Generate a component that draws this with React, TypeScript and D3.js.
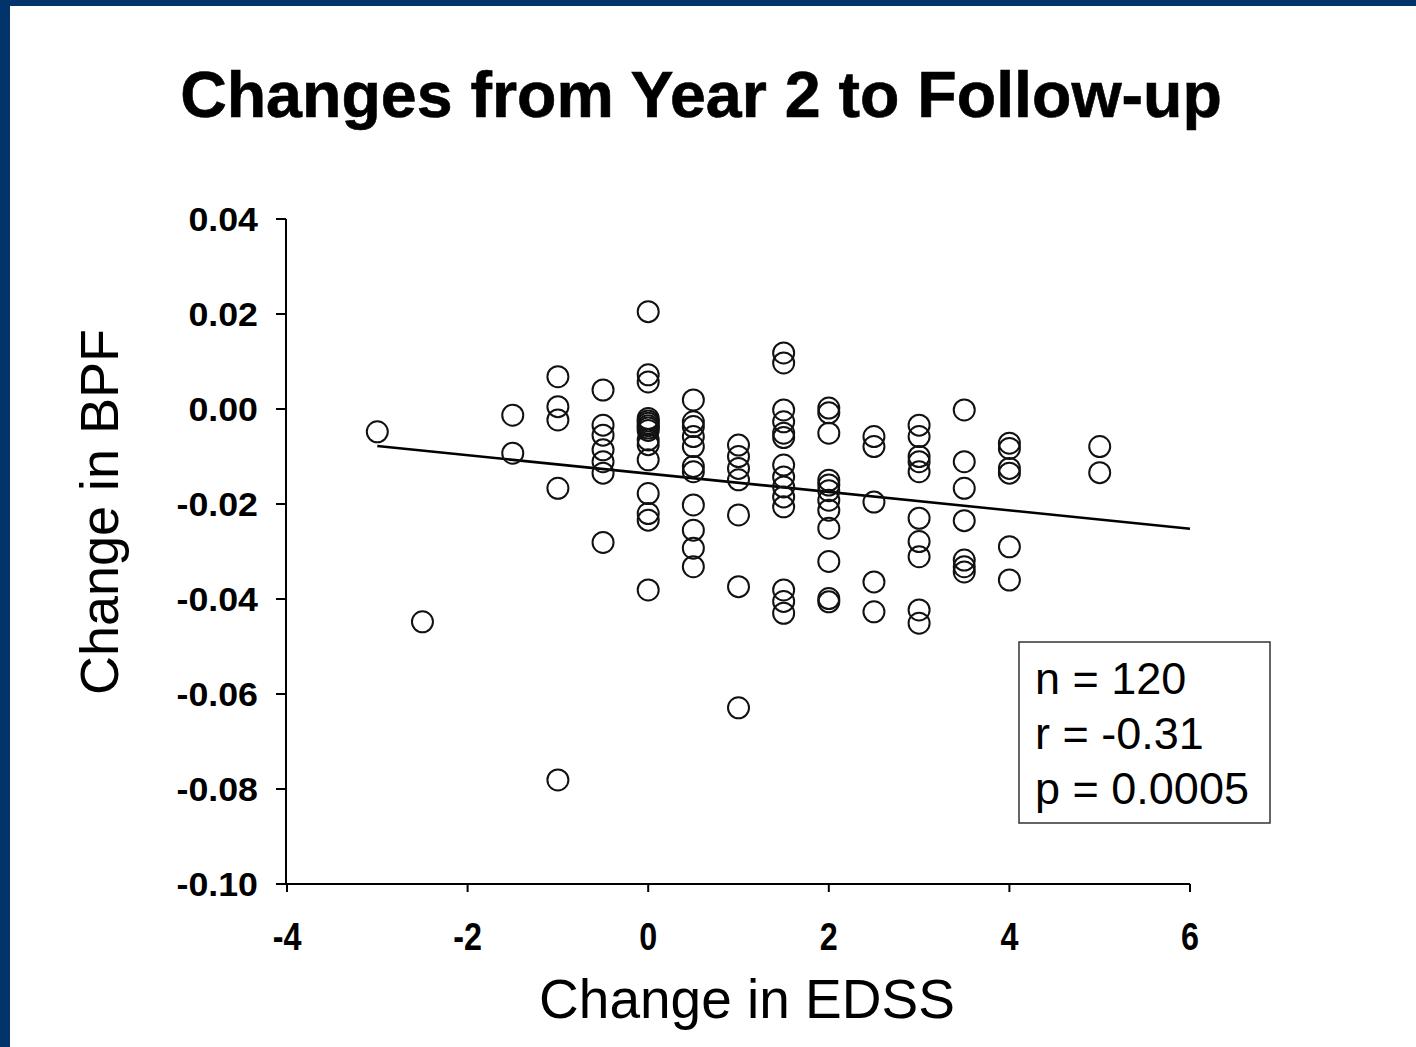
import React from "react";
import * as d3 from "d3";

const edssLevels = [-3, -2.5, -1.5, -1, -0.5, 0, 0.5, 1, 1.5, 2, 2.5, 3, 3.5, 4, 5];
const bpfAtM3 = [-0.0048];
const bpfAtM25 = [-0.0448];
const bpfAtM15 = [-0.0013, -0.0093];
const bpfAtM1 = [0.0068, 0.0005, -0.0023, -0.0167, -0.0781];
const bpfAtM05 = [0.004, -0.0034, -0.0055, -0.0086, -0.0111, -0.0135, -0.0281];
const bpfAt0 = [0.0205, 0.0072, 0.0057, -0.002, -0.0025, -0.003, -0.0035, -0.004, -0.0045, -0.0065, -0.0075, -0.0107, -0.0178, -0.022, -0.0234, -0.0381];
const bpfAt05 = [0.0019, -0.0027, -0.0037, -0.0058, -0.0079, -0.0121, -0.0132, -0.0202, -0.0255, -0.0293, -0.0332];
const bpfAt1 = [-0.0076, -0.01, -0.0125, -0.0149, -0.0223, -0.0374, -0.0629];
const bpfAt15 = [0.0118, 0.0097, -0.0002, -0.0027, -0.0051, -0.006, -0.0118, -0.0143, -0.0164, -0.0185, -0.0206, -0.0381, -0.0405, -0.043];
const bpfAt2 = [0.0002, -0.0008, -0.0051, -0.015, -0.016, -0.0172, -0.0192, -0.0213, -0.0251, -0.0321, -0.0399, -0.0406];
const bpfAt25 = [-0.0058, -0.0079, -0.0196, -0.0364, -0.0427];
const bpfAt3 = [-0.0034, -0.0058, -0.01, -0.0111, -0.0132, -0.023, -0.0279, -0.0311, -0.0423, -0.0451];
const bpfAt35 = [-0.0002, -0.0111, -0.0167, -0.0235, -0.0318, -0.0332, -0.0343];
const bpfAt4 = [-0.0072, -0.0083, -0.0125, -0.0135, -0.029, -0.036];
const bpfAt5 = [-0.0079, -0.0134];
const bpfByLevel = [bpfAtM3, bpfAtM25, bpfAtM15, bpfAtM1, bpfAtM05, bpfAt0, bpfAt05, bpfAt1, bpfAt15, bpfAt2, bpfAt25, bpfAt3, bpfAt35, bpfAt4, bpfAt5];

const fitX = [-3, 6];
const fitY = [-0.0078, -0.0252];

const xTicks = [-4, -2, 0, 2, 4, 6];
const xTickLabels = ["-4", "-2", "0", "2", "4", "6"];
const yTicks = [0.04, 0.02, 0, -0.02, -0.04, -0.06, -0.08, -0.1];
const yTickLabels = ["0.04", "0.02", "0.00", "-0.02", "-0.04", "-0.06", "-0.08", "-0.10"];

const titleText = "Changes from Year 2 to Follow-up";
const xTitle = "Change in EDSS";
const yTitle = "Change in BPF";
const statLines = ["n = 120", "r = -0.31", "p = 0.0005"];

export default function App() {
  const W = 1416;
  const H = 1047;
  const x = d3.scaleLinear().domain([-4, 6]).range([287, 1190]);
  const y = d3.scaleLinear().domain([-0.1, 0.04]).range([884, 219]);
  const points: { ex: number; b: number }[] = [];
  edssLevels.forEach((e, i) => bpfByLevel[i].forEach((b) => points.push({ ex: e, b })));
  const line = d3.line<number>().x((_, i) => x(fitX[i])).y((d) => y(d));
  const font = "'Liberation Sans', Arial, sans-serif";

  return (
    <div style={{ position: "fixed", left: 0, top: 0 }}>
      <svg width={W} height={H} style={{ display: "block", background: "#fff" }}>
        <rect x={0} y={0} width={W} height={6} fill="#02336a" />
        <rect x={0} y={0} width={10} height={H} fill="#02336a" />
        <text x={701} y={117} textAnchor="middle" fontFamily={font} fontWeight="bold" fontSize={64.5} fill="#000" stroke="#000" strokeWidth={0.6}>
          {titleText}
        </text>
        {/* axes */}
        <line x1={x(-4)} x2={x(6)} y1={y(-0.1)} y2={y(-0.1)} stroke="#000" strokeWidth={2} />
        <line x1={x(-4) - 1} x2={x(-4) - 1} y1={y(0.04)} y2={y(-0.1)} stroke="#000" strokeWidth={2} />
        {xTicks.map((t, i) => (
          <g key={"xt" + i}>
            <line x1={x(t)} x2={x(t)} y1={y(-0.1)} y2={y(-0.1) + 8} stroke="#000" strokeWidth={2} />
            <text
              transform={`translate(${x(t)},${950}) scale(0.85,1)`}
              textAnchor="middle"
              fontFamily={font}
              fontWeight="bold"
              fontSize={38}
              fill="#000"
            >
              {xTickLabels[i]}
            </text>
          </g>
        ))}
        {yTicks.map((t, i) => (
          <g key={"yt" + i}>
            <line x1={x(-4) - 11} x2={x(-4) - 1} y1={y(t)} y2={y(t)} stroke="#000" strokeWidth={2} />
            <text
              transform={`translate(${258},${y(t) + 11.5}) scale(1.1,1)`}
              textAnchor="end"
              fontFamily={font}
              fontWeight="bold"
              fontSize={32.5}
              fill="#000"
            >
              {yTickLabels[i]}
            </text>
          </g>
        ))}
        <text x={747} y={1018} textAnchor="middle" fontFamily={font} fontSize={55} fill="#000">
          {xTitle}
        </text>
        <text
          transform={`translate(${118},${512}) rotate(-90)`}
          textAnchor="middle"
          fontFamily={font}
          fontSize={54}
          fill="#000"
        >
          {yTitle}
        </text>
        {/* fit line */}
        <path d={line(fitY) || ""} fill="none" stroke="#000" strokeWidth={2.6} />
        {/* points */}
        {points.map((p, i) => (
          <circle key={"p" + i} cx={x(p.ex)} cy={y(p.b)} r={10.5} fill="none" stroke="#111" strokeWidth={2} />
        ))}
        {/* stats box */}
        <rect x={1019} y={642} width={251} height={181} fill="#fff" stroke="#333" strokeWidth={1.5} />
        {statLines.map((s, i) => (
          <text key={"s" + i} x={1035} y={694 + i * 55} fontFamily={font} fontSize={45} fill="#000">
            {s}
          </text>
        ))}
      </svg>
    </div>
  );
}
